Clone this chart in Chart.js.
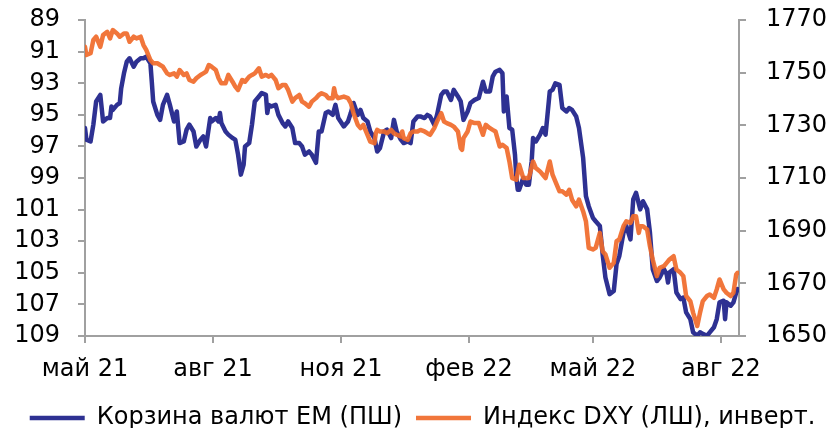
<!DOCTYPE html>
<html>
<head>
<meta charset="utf-8">
<script src="https://cdn.jsdelivr.net/npm/chart.js@4.4.1/dist/chart.umd.min.js"></script>
<style>
  html, body { margin: 0; padding: 0; background: #fff; }
</style>
</head>
<body>
<canvas id="myChart" width="833" height="428"></canvas>
<script>
// days counted from 1 May 2021
const tickDays = [0, 92, 184, 276, 365, 457];
const tickLabels = ['май 21', 'авг 21', 'ноя 21', 'фев 22', 'май 22', 'авг 22'];

// EM currency basket (right scale)
const emDays = [0, 1, 4, 6, 8, 11, 13, 16, 18, 19, 20, 23, 25, 26, 28, 30, 32, 35, 37, 40, 42, 44, 47, 48, 49, 52, 54, 56, 59, 61, 64, 66, 68, 71, 73, 75, 78, 80, 83, 85, 87, 90,
  91, 94, 96, 97, 98, 101, 103, 106, 108, 110, 112, 114, 115, 118, 120, 122, 125, 127, 130, 131, 132, 134, 137, 139, 142, 144, 146, 149, 151, 154, 156, 158, 161, 163, 166, 168, 170, 173, 175, 178, 180, 182,
  186, 189, 191, 193, 196, 198, 200, 203, 205, 208, 210, 212, 215, 217, 220, 222, 224, 227, 229, 232, 234, 236, 239, 241, 244, 246, 248, 251, 253, 256, 258, 260, 263, 265, 268, 270, 272, 275, 277, 280,
  283, 286, 288, 291, 293, 295, 298, 300, 301, 303, 305, 307, 309, 310, 311, 312, 315, 317, 319, 321, 322, 324, 327, 329, 331, 334, 336, 338, 341, 343, 346, 348, 350, 353, 355, 358, 360, 362, 365, 367, 370, 372, 374,
  377, 380, 382, 384, 387, 389, 392, 394, 396, 399, 401, 404, 406, 408, 411, 413, 416, 418, 419, 420, 423, 425, 428, 430, 432, 435, 437, 440, 442, 444, 447, 449, 452, 454, 456, 459, 460, 461, 464, 466, 468, 469];
const emValues = [1729.0, 1724.6, 1723.9, 1730.3, 1739.1, 1741.6, 1731.5, 1732.8, 1732.8, 1737.2, 1735.9, 1737.8, 1738.5, 1744.1, 1749.8, 1754.2, 1755.5, 1752.3, 1754.2, 1755.5, 1755.5, 1756.1, 1753.6, 1746.6, 1739.1, 1734.0, 1732.1, 1737.8, 1741.6, 1737.8, 1731.5, 1735.3, 1723.3, 1723.9, 1728.4, 1730.3, 1727.7, 1722.0, 1724.6, 1725.8, 1722.0, 1732.8,
  1731.5, 1732.8, 1731.5, 1734.7, 1730.9, 1727.7, 1726.5, 1725.2, 1724.6, 1718.9, 1711.3, 1715.1, 1722.0, 1723.3, 1730.3, 1739.1, 1741.0, 1742.3, 1741.6, 1734.7, 1737.8, 1737.2, 1737.8, 1734.0, 1730.9, 1729.6, 1731.5, 1729.0, 1723.3, 1723.3, 1722.0, 1718.9, 1720.1, 1718.9, 1715.8, 1727.7, 1727.7, 1734.7, 1735.3, 1734.0, 1737.8, 1732.8,
  1729.6, 1731.5, 1734.7, 1738.5, 1734.0, 1735.9, 1732.8, 1731.5, 1727.7, 1725.2, 1720.1, 1721.4, 1727.7, 1728.4, 1725.2, 1732.1, 1727.7, 1724.6, 1723.3, 1723.9, 1723.3, 1731.5, 1733.4, 1733.4, 1732.8, 1734.0, 1733.4, 1730.3, 1734.0, 1741.6, 1742.9, 1742.9, 1739.7, 1743.5, 1741.0, 1739.1, 1732.1, 1735.3, 1738.5, 1739.7,
  1740.4, 1746.6, 1742.9, 1742.9, 1748.5, 1750.4, 1751.1, 1749.8, 1735.3, 1741.0, 1729.0, 1728.4, 1718.9, 1710.1, 1705.6, 1705.6, 1710.1, 1707.5, 1707.5, 1716.4, 1725.2, 1723.9, 1726.5, 1729.0, 1726.5, 1742.9, 1743.5, 1746.0, 1745.4, 1736.6, 1735.3, 1736.6, 1735.9, 1733.4, 1729.0, 1717.6, 1703.1, 1699.3, 1694.9, 1693.6, 1691.8, 1681.0, 1672.2,
  1665.9, 1667.1, 1677.3, 1680.4, 1689.3, 1691.8, 1686.7, 1701.9, 1704.4, 1698.1, 1701.2, 1698.1, 1689.3, 1675.4, 1670.9, 1672.2, 1675.4, 1673.5, 1670.3, 1674.1, 1675.4, 1666.5, 1664.0, 1664.6, 1659.0, 1656.4, 1651.4, 1650.1, 1651.4, 1650.8, 1650.1, 1651.4, 1653.3, 1656.4, 1662.8, 1663.4, 1656.4, 1662.8, 1661.5, 1662.8, 1666.5, 1667.8];

// DXY index (left scale, inverted)
const dxyDays = [0, 1, 4, 6, 8, 11, 13, 16, 18, 20, 23, 25, 28, 30, 32, 35, 37, 40, 42, 44, 47, 49, 52, 54, 56, 59, 61, 64, 66, 68, 71, 73, 75, 78, 80, 83, 85, 87, 89,
  91, 94, 96, 98, 101, 103, 106, 108, 110, 113, 115, 118, 120, 122, 125, 127, 130, 132, 134, 137, 139, 142, 144, 146, 149, 151, 154, 156, 158, 161, 163, 166, 168, 170, 173, 175, 178, 179, 180, 182,
  186, 189, 191, 193, 196, 198, 200, 203, 205, 208, 209, 210, 212, 215, 217, 220, 222, 224, 227, 228, 229, 232, 234, 236, 239, 241, 244, 246, 248, 251, 253, 256, 258, 260, 263, 265, 268, 270, 271, 272, 275, 277, 280,
  283, 286, 288, 291, 293, 295, 298, 300, 303, 305, 307, 310, 312, 315, 317, 319, 322, 324, 327, 329, 331, 334, 336, 338, 341, 343, 346, 348, 350, 353, 355, 358, 360, 362, 365, 367, 370, 372, 374,
  377, 380, 382, 384, 387, 389, 392, 394, 396, 398, 399, 401, 404, 406, 408, 411, 413, 416, 418, 420, 423, 425, 428, 430, 432, 435, 437, 440, 442, 444, 447, 449, 452, 454, 456, 459, 461, 464, 466, 468, 469];
const dxyValues = [90.69, 91.21, 91.10, 90.26, 90.05, 90.69, 89.95, 89.74, 90.16, 89.63, 89.84, 90.05, 89.84, 89.84, 90.37, 90.05, 90.16, 90.05, 90.58, 90.89, 91.53, 91.73, 91.73, 91.84, 91.95, 92.37, 92.47, 92.37, 92.58, 92.16, 92.47, 92.37, 92.79, 92.90, 92.68, 92.47, 92.37, 92.26, 91.84,
  91.95, 92.16, 92.68, 93.00, 93.00, 92.47, 92.90, 93.21, 93.42, 92.79, 92.90, 92.58, 92.47, 92.37, 92.05, 92.58, 92.47, 92.58, 92.47, 92.79, 93.31, 93.10, 93.10, 93.42, 94.16, 93.94, 93.74, 94.16, 94.26, 94.48, 94.16, 93.94, 93.74, 93.63, 93.74, 93.94, 93.94, 93.31, 93.74, 93.94,
  93.84, 93.94, 94.26, 94.89, 95.63, 95.84, 95.63, 96.26, 96.69, 96.79, 96.16, 95.95, 96.05, 96.05, 96.16, 95.95, 96.16, 96.26, 96.37, 96.05, 96.47, 96.58, 96.16, 96.05, 96.05, 95.95, 96.05, 96.16, 96.26, 95.84, 95.42, 94.89, 95.42, 95.52, 95.63, 95.74, 96.05, 97.10, 97.21, 96.47, 96.05, 95.42, 95.52,
  95.52, 96.26, 95.63, 95.84, 95.95, 96.05, 97.00, 96.89, 97.10, 97.95, 99.00, 99.10, 98.16, 99.00, 99.00, 99.00, 97.95, 98.37, 98.58, 98.79, 99.00, 97.95, 98.79, 99.21, 99.84, 99.84, 100.05, 99.74, 100.37, 100.79, 100.37, 101.11, 101.74, 103.42, 103.52, 103.42, 102.47, 103.63, 103.84,
  104.68, 104.37, 103.00, 102.89, 102.05, 101.74, 101.84, 101.42, 101.42, 102.47, 102.05, 102.05, 102.26, 103.32, 104.16, 105.21, 104.68, 104.58, 104.37, 104.16, 103.95, 104.79, 105.00, 105.21, 106.47, 106.79, 107.52, 108.37, 107.52, 106.79, 106.47, 106.37, 106.58, 106.05, 105.42, 106.05, 106.26, 106.47, 106.26, 105.10, 105.00];

const axisColor = '#a0a0a0';
const tickFont = { family: 'DejaVu Sans', size: 24 };
// tiny lineHeight keeps the top label from pushing the plot area down
const yTickFont = { family: 'DejaVu Sans', size: 24, lineHeight: 0.01 };

function createChart () {
  const ctx = document.getElementById('myChart').getContext('2d');

  const chart = new Chart(ctx, {
    type: 'line',
    data: {
      datasets: [
        {
          label: 'Индекс DXY (ЛШ), инверт.',
          data: dxyDays.map((d, i) => ({ x: d, y: dxyValues[i] })),
          yAxisID: 'yL',
          borderColor: 'rgba(240, 106, 42, 0.92)',
          backgroundColor: 'rgba(240, 106, 42, 0.92)',
          borderWidth: 4.5,
          pointRadius: 0,
          tension: 0,
          borderJoinStyle: 'round',
          borderCapStyle: 'round'
        },
        {
          label: 'Корзина валют EM (ПШ)',
          data: emDays.map((d, i) => ({ x: d, y: emValues[i] })),
          yAxisID: 'yR',
          borderColor: '#2e3192',
          backgroundColor: '#2e3192',
          borderWidth: 4.5,
          pointRadius: 0,
          tension: 0,
          borderJoinStyle: 'round',
          borderCapStyle: 'round'
        }
      ]
    },
    options: {
      responsive: false,
      animation: false,
      layout: { padding: { top: 20, left: 12, right: 0, bottom: -12 } },
      plugins: {
        tooltip: { enabled: false },
        legend: {
          position: 'bottom',
          labels: {
            usePointStyle: true,
            pointStyle: 'line',
            pointStyleWidth: 55,
            padding: 14,
            color: '#000',
            font: { family: 'DejaVu Sans', size: 24 },
            sort: (a, b) => b.datasetIndex - a.datasetIndex
          }
        }
      },
      scales: {
        x: {
          type: 'linear',
          min: 0,
          max: 470,
          afterBuildTicks: (axis) => { axis.ticks = tickDays.map(v => ({ value: v })); },
          afterFit: (axis) => { axis.height = 56; },
          grid: { drawOnChartArea: false, tickLength: 7, color: axisColor, lineWidth: 2 },
          border: { display: true, color: axisColor, width: 2 },
          ticks: {
            autoSkip: false,
            maxRotation: 0,
            padding: 12,
            color: '#000',
            font: tickFont,
            callback: (v) => tickLabels[tickDays.indexOf(v)]
          }
        },
        yL: {
          position: 'left',
          reverse: true,
          min: 89,
          max: 109,
          afterFit: (axis) => { axis.width = 73; },
          grid: { drawOnChartArea: false, tickLength: 7, color: axisColor, lineWidth: 2 },
          border: { display: true, color: axisColor, width: 2 },
          ticks: { stepSize: 2, autoSkip: false, padding: 18, color: '#000', font: yTickFont, callback: (v) => String(v) }
        },
        yR: {
          position: 'right',
          min: 1650,
          max: 1770,
          afterFit: (axis) => { axis.width = 94; },
          grid: { drawOnChartArea: false, tickLength: 7, color: axisColor, lineWidth: 2 },
          border: { display: true, color: axisColor, width: 2 },
          ticks: { stepSize: 20, autoSkip: false, padding: 20, color: '#000', font: yTickFont, callback: (v) => String(v) }
        }
      }
    }
  });
}

createChart();
</script>
</body>
</html>
